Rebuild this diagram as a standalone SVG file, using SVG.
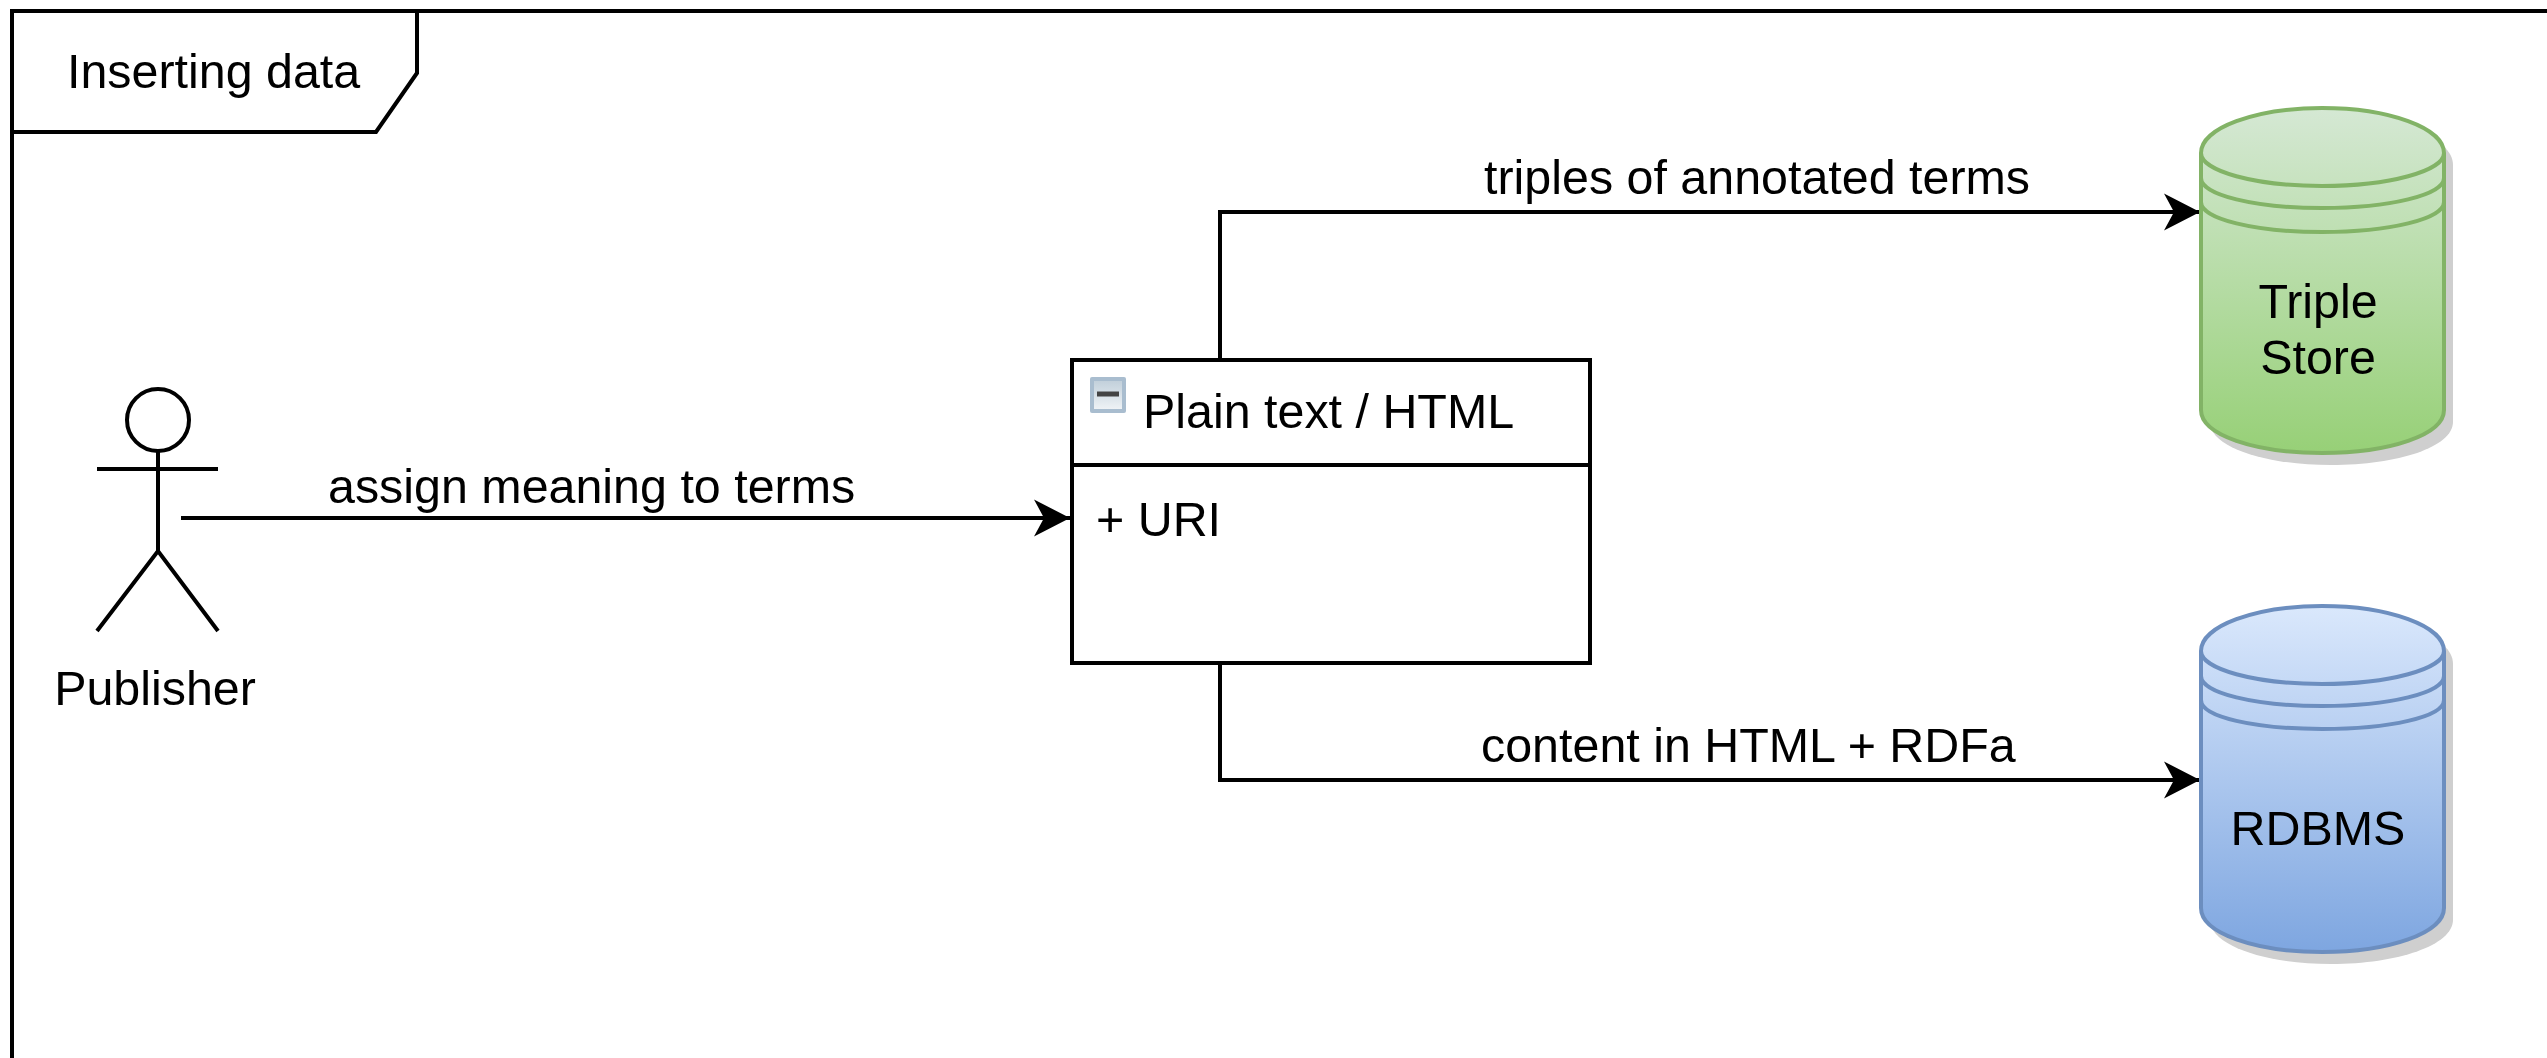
<svg xmlns="http://www.w3.org/2000/svg" width="2547" height="1058" viewBox="0 0 2547 1058">
<style>
text{font-family:"Liberation Sans",Arial,sans-serif;font-size:48.4px;fill:#000}
.l{fill:none;stroke:#000;stroke-width:4}
.m{text-anchor:middle}
.g{stroke:#82b366;stroke-width:4}
.b{stroke:#6c8ebf;stroke-width:4}
.n{fill:none}
.s{fill:#cfcfcf}
</style>
<defs>
<linearGradient id="gg" x1="0" y1="0" x2="0" y2="1"><stop offset="0" stop-color="#d5e8d4"/><stop offset="1" stop-color="#97d077"/></linearGradient>
<linearGradient id="bg" x1="0" y1="0" x2="0" y2="1"><stop offset="0" stop-color="#dae8fc"/><stop offset="1" stop-color="#7ea6e0"/></linearGradient>
<linearGradient id="ig" x1="0" y1="0" x2="0" y2="1"><stop offset="0" stop-color="#c2d0db"/><stop offset="1" stop-color="#eef2f5"/></linearGradient>
<marker id="a" markerUnits="userSpaceOnUse" markerWidth="40" markerHeight="40" refX="36" refY="20" orient="auto"><path d="M0 1.5L36 20L0 38.5L10 20Z" fill="#000"/></marker>
</defs>
<rect width="2547" height="1058" fill="#fff"/>
<g id="frame">
<path class="l" d="M2547 11H12V1058"/>
<path class="l" d="M12 132H376L417 73V11"/>
<text x="67" y="88">Inserting data</text>
</g>
<g id="connectors">
<path class="l" marker-end="url(#a)" d="M181 518H1070"/>
<path class="l" marker-end="url(#a)" d="M1220 360V212H2200"/>
<path class="l" marker-end="url(#a)" d="M1220 663V780H2200"/>
<text x="328" y="503">assign meaning to terms</text>
<text x="1484" y="194">triples of annotated terms</text>
<text x="1481" y="762">content in HTML + RDFa</text>
</g>
<g id="publisher">
<circle class="l" cx="158" cy="420" r="31"/>
<path class="l" d="M158 451V551M97 469H218M97 631L158 551L218 631"/>
<text x="155" y="705" class="m">Publisher</text>
</g>
<g id="plain-text">
<rect x="1072" y="360" width="518" height="303" fill="#fff" stroke="#000" stroke-width="4"/>
<path class="l" d="M1072 465H1590"/>
<rect x="1090" y="377" width="36" height="36" rx="2" fill="#a9bdcf"/>
<rect x="1094" y="381" width="28" height="28" fill="url(#ig)"/>
<path d="M1097 394H1119" stroke="#444" stroke-width="5"/>
<text x="1143" y="428">Plain text / HTML</text>
<text x="1096" y="536">+ URI</text>
</g>
<g id="triple-store">
<path class="s" d="M2210 165C2210 137 2264 120 2331 120C2398 120 2453 137 2453 165V422C2453 447 2398 465 2331 465C2264 465 2210 447 2210 422Z"/>
<path class="g" fill="url(#gg)" d="M2201 153C2201 128 2255 108 2322 108C2389 108 2444 128 2444 153V410C2444 435 2389 453 2322 453C2255 453 2201 435 2201 410Z"/>
<path class="g n" d="M2201 153C2201 171 2255 186 2322 186C2389 186 2444 171 2444 153M2201 178C2201 195 2255 208 2322 208C2389 208 2444 195 2444 178M2201 202C2201 219 2255 232 2322 232C2389 232 2444 219 2444 202"/>
<text x="2318" y="318" class="m">Triple</text>
<text x="2318" y="374" class="m">Store</text>
</g>
<g id="rdbms">
<path class="s" d="M2210 664C2210 636 2264 618 2331 618C2398 618 2453 636 2453 664V920C2453 945 2398 964 2331 964C2264 964 2210 945 2210 920Z"/>
<path class="b" fill="url(#bg)" d="M2201 651C2201 626 2255 606 2322 606C2389 606 2444 626 2444 651V908C2444 933 2389 952 2322 952C2255 952 2201 933 2201 908Z"/>
<path class="b n" d="M2201 651C2201 669 2255 684 2322 684C2389 684 2444 669 2444 651M2201 676C2201 693 2255 706 2322 706C2389 706 2444 693 2444 676M2201 700C2201 717 2255 729 2322 729C2389 729 2444 717 2444 700"/>
<text x="2318" y="845" class="m">RDBMS</text>
</g>
</svg>
